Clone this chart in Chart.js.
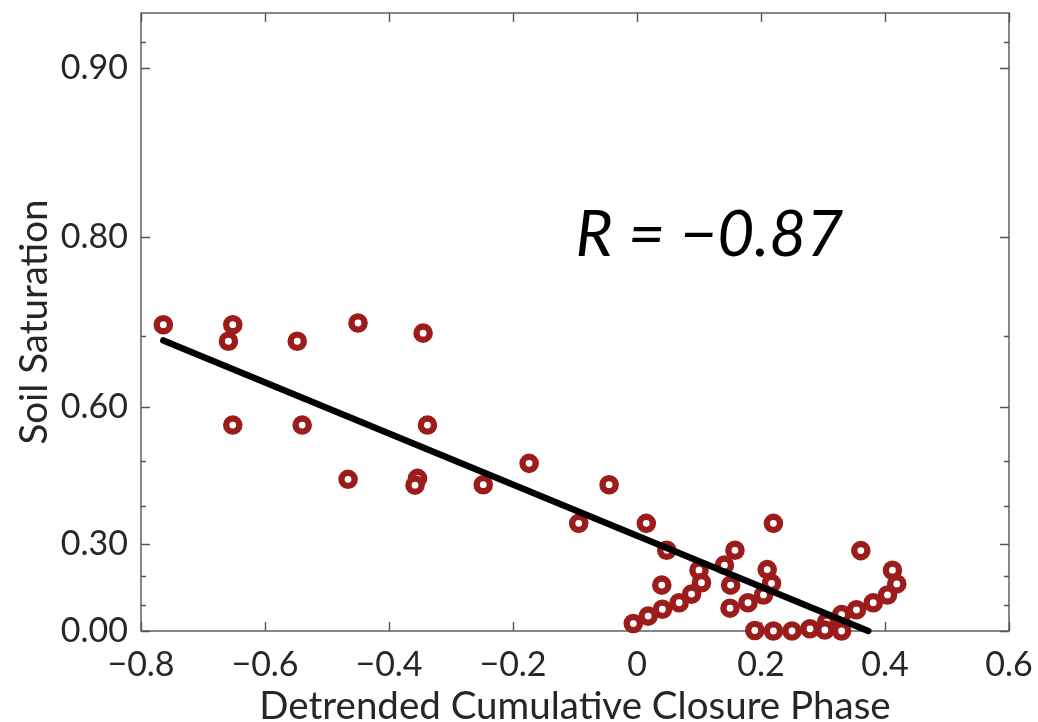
<!DOCTYPE html>
<html>
<head>
<meta charset="utf-8">
<script src="https://cdn.jsdelivr.net/npm/chart.js@4.4.0/dist/chart.umd.min.js"></script>
<style>
  html, body { margin: 0; padding: 0; background: #fff; }
  #wrap { width: 1038px; height: 722px; }
</style>
</head>
<body>
<div id="wrap"><canvas id="grafico" width="1038" height="722"></canvas></div>
<script>
// Valores
const fase = [-0.764, -0.652, -0.659, -0.548, -0.450, -0.345, -0.652, -0.540, -0.338, -0.466,
  -0.354, -0.358, -0.248, -0.174, -0.094, -0.045, 0.015, 0.048, 0.158, 0.220,
  0.361, 0.141, 0.100, 0.210, 0.412, 0.040, 0.104, 0.151, 0.217, 0.419,
  0.088, 0.204, 0.404, 0.068, 0.179, 0.381, 0.041, 0.150, 0.354, 0.018,
  0.330, -0.006, 0.306, 0.190, 0.220, 0.250, 0.279, 0.303, 0.330];
const saturacao = [0.714, 0.714, 0.694, 0.694, 0.716, 0.704, 0.569, 0.569, 0.569, 0.462,
  0.464, 0.449, 0.450, 0.496, 0.356, 0.450, 0.356, 0.281, 0.281, 0.356,
  0.280, 0.236, 0.220, 0.222, 0.220, 0.171, 0.179, 0.171, 0.177, 0.175,
  0.140, 0.137, 0.137, 0.109, 0.109, 0.109, 0.085, 0.089, 0.083, 0.059,
  0.065, 0.030, 0.036, 0.002, 0.000, 0.000, 0.009, 0.004, 0.000];

// reta de ajuste (extremos)
const ajusteX = [-0.764, 0.373];
const ajusteY = [0.695, 0.0];

const xTicks = [-0.8, -0.6, -0.4, -0.2, 0, 0.2, 0.4, 0.6];
const yTicks = [0, 0.1, 0.2, 0.3, 0.4, 0.5, 0.6, 0.7, 0.8, 0.9, 0.91];
const yRotulos = ['0.00', '', '', '0.30', '', '', '0.60', '', '0.80', '0.90', ''];
const textoR = 'R = \u22120.87';

const FONTE = 'Lato, "Noto Sans", sans-serif';

// eixo y em escala -ln(1 - s)
const T = s => -Math.log(1 - s);
class EscalaSaturacao extends Chart.LinearScale {
  static id = 'saturacao';
  static defaults = {};
  configure() {
    super.configure();
    this._u0 = T(this.min);
    this._u1 = T(this.max);
  }
  getPixelForValue(v) {
    return this.getPixelForDecimal((T(v) - this._u0) / (this._u1 - this._u0));
  }
  getValueForPixel(p) {
    const u = this._u0 + this.getDecimalForPixel(p) * (this._u1 - this._u0);
    return 1 - Math.exp(-u);
  }
}
Chart.register(EscalaSaturacao);

// moldura com ticks para dentro
const moldura = {
  id: 'moldura',
  beforeDatasetsDraw(chart) {
    const { ctx, chartArea: a, scales: { x, y } } = chart;
    ctx.save();
    ctx.strokeStyle = '#555555';
    ctx.lineWidth = 1.4;
    ctx.strokeRect(a.left, a.top, a.right - a.left, a.bottom - a.top);
    ctx.beginPath();
    xTicks.forEach(v => {
      const px = Math.round(x.getPixelForValue(v)) + 0.5;
      ctx.moveTo(px, a.bottom); ctx.lineTo(px, a.bottom - 9);
      ctx.moveTo(px, a.top); ctx.lineTo(px, a.top + 9);
    });
    yTicks.forEach((v, i) => {
      const len = yRotulos[i] ? 9 : 5;
      const py = Math.round(y.getPixelForValue(v)) + 0.5;
      ctx.moveTo(a.left, py); ctx.lineTo(a.left + len, py);
      ctx.moveTo(a.right, py); ctx.lineTo(a.right - len, py);
    });
    ctx.stroke();
    ctx.restore();
  },
  afterDraw(chart) {
    const { ctx, scales: { x, y } } = chart;
    ctx.save();
    ctx.fillStyle = '#000';
    ctx.font = 'italic 64px ' + FONTE;
    ctx.textBaseline = 'alphabetic';
    ctx.fillText(textoR, x.getPixelForValue(-0.099), y.getPixelForValue(0.784));
    ctx.restore();
  }
};

function semPadding(s) {
  s.paddingTop = 0; s.paddingBottom = 0; s.paddingLeft = 0; s.paddingRight = 0;
}

new Chart(document.getElementById('grafico'), {
  type: 'scatter',
  data: {
    datasets: [
      {
        type: 'line',
        data: ajusteX.map((v, i) => ({ x: v, y: ajusteY[i] })),
        borderColor: '#000',
        borderWidth: 6.5,
        borderCapStyle: 'round',
        pointRadius: 0,
        fill: false,
        clip: false
      },
      {
        data: fase.map((v, i) => ({ x: v, y: saturacao[i] })),
        pointRadius: 6.6,
        pointBorderWidth: 6.4,
        borderWidth: 6.4,
        borderColor: '#9c1c1c',
        backgroundColor: '#ffffff',
        pointStyle: 'circle',
        clip: false
      }
    ]
  },
  options: {
    responsive: false,
    animation: false,
    layout: { padding: { top: 13, right: 29, left: 0, bottom: 0 } },
    plugins: { legend: { display: false }, tooltip: { enabled: false } },
    scales: {
      x: {
        type: 'linear',
        position: 'bottom',
        min: -0.8,
        max: 0.6,
        afterBuildTicks: s => { s.ticks = xTicks.map(v => ({ value: v })); },
        afterFit: s => { s.height = 91; semPadding(s); },
        grid: { display: false, drawTicks: false },
        border: { display: false },
        ticks: {
          color: '#262626',
          font: { family: FONTE, size: 34 },
          padding: 14,
          maxRotation: 0,
          callback: v => v === 0 ? '0' : (v < 0 ? '\u2212' : '') + Math.abs(v).toFixed(1)
        },
        title: {
          display: true,
          text: 'Detrended Cumulative Closure Phase',
          color: '#262626',
          font: { family: FONTE, size: 38.5, lineHeight: 1 },
          padding: { top: 0, bottom: -4 }
        }
      },
      y: {
        type: 'saturacao',
        min: 0,
        max: 0.92,
        afterBuildTicks: s => { s.ticks = yTicks.map(v => ({ value: v })); },
        afterFit: s => { s.width = 141; semPadding(s); },
        grid: { display: false, drawTicks: false },
        border: { display: false },
        ticks: {
          color: '#262626',
          font: { family: FONTE, size: 34 },
          padding: 13,
          callback: (v, i) => yRotulos[i]
        },
        title: {
          display: true,
          text: 'Soil Saturation',
          color: '#262626',
          font: { family: FONTE, size: 38.5, lineHeight: 1 },
          padding: { top: 15, bottom: 0 }
        }
      }
    }
  },
  plugins: [moldura]
});
</script>
</body>
</html>
